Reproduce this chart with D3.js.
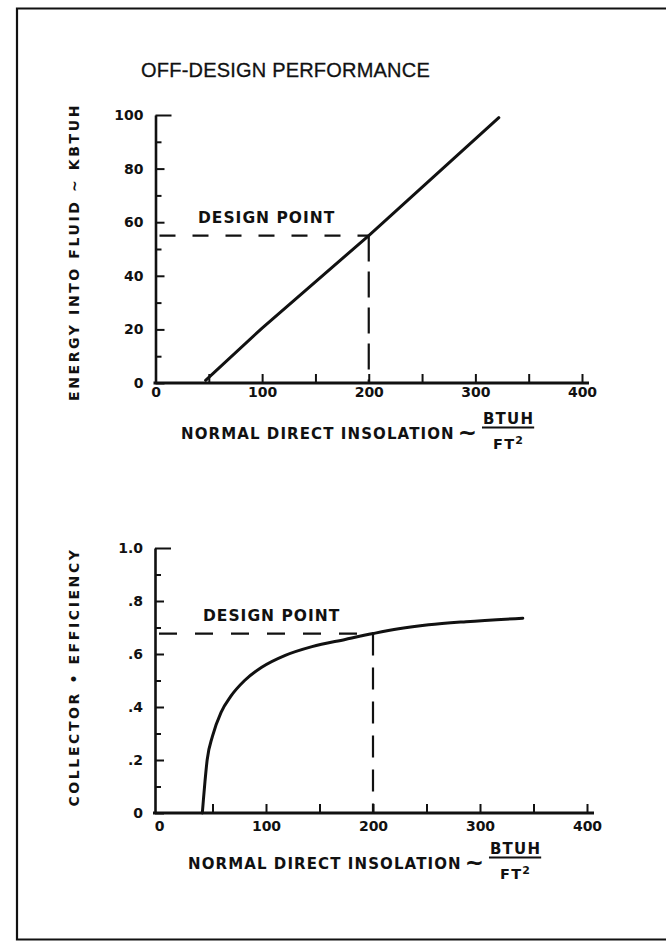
<!DOCTYPE html>
<html>
<head>
<meta charset="utf-8">
<script src="https://cdn.jsdelivr.net/npm/d3@7"></script>
<style>
  html, body { margin: 0; padding: 0; background: #fff; }
  svg { display: block; }
  text { fill: #111; }
  .bold { font-family: "DejaVu Sans", Verdana, sans-serif; font-weight: bold; }
</style>
</head>
<body>
<svg id="chart" width="666" height="946"></svg>
<script>
// ---- data ----
const insolationTicks = [0, 100, 200, 300, 400];
const insolationMinor = [50, 150, 250, 350];

const energyTicks = [0, 20, 40, 60, 80, 100];
const energyMinor = [10, 30, 50, 70, 90];

const efficiencyTicks = [0, 0.2, 0.4, 0.6, 0.8, 1.0];
const efficiencyTickLabels = ["0", ".2", ".4", ".6", ".8", "1.0"];
const efficiencyMinor = [0.1, 0.3, 0.5, 0.7, 0.9];

// energy into fluid (kBtu/h) vs normal direct insolation (Btu/h·ft²)
const energyInsolation = [47, 100, 200, 322];
const energyValues     = [1, 20.5, 55, 99];

// collector efficiency vs normal direct insolation
const efficiencyInsolation = [40.5, 41.5, 43, 45, 50, 58, 67, 80, 96, 118, 143, 174, 200, 224, 252, 287, 340];
const efficiencyValues     = [0, 0.05, 0.12, 0.2, 0.29, 0.38, 0.44, 0.5, 0.55, 0.595, 0.628, 0.655, 0.677, 0.695, 0.71, 0.722, 0.735];

const designInsolation = 200;
const designEnergy = 55;
const designEfficiency = 0.677;

const title = "OFF-DESIGN PERFORMANCE";
const xTitle = "NORMAL DIRECT INSOLATION";
const unitTop = "BTUH";
const unitBottom = "FT";
const energyTitle = "ENERGY INTO FLUID ~ KBTUH";
const efficiencyTitle = "COLLECTOR \u2022 EFFICIENCY";
const designLabel = "DESIGN POINT";

// ---- drawing ----
const svg = d3.select("#chart");
const ink = "#111";

// page frame
svg.append("path")
  .attr("d", "M666,8.5H17V939.5H666")
  .attr("fill", "none").attr("stroke", ink).attr("stroke-width", 2.2);

svg.append("text")
  .attr("x", 285.5).attr("y", 77)
  .attr("text-anchor", "middle")
  .attr("font-family", "'Liberation Sans', Arial, sans-serif")
  .attr("font-size", 20)
  .attr("letter-spacing", 0.2)
  .attr("stroke", ink).attr("stroke-width", 0.3)
  .text(title);

function drawPanel(cfg) {
  const g = svg.append("g");
  const x = d3.scaleLinear().domain([0, 400]).range(cfg.xRange);
  const y = d3.scaleLinear().domain(cfg.yDomain).range(cfg.yRange);

  // y axis: major ticks with labels, pointing inward
  const yAxis = g.append("g")
    .attr("transform", `translate(${cfg.yAxisX},0)`)
    .call(d3.axisLeft(y).tickValues(cfg.yTicks).tickSize(-9).tickSizeOuter(0)
      .tickPadding(12).tickFormat((d, i) => cfg.yLabels[i]));
  yAxis.select(".domain").attr("stroke", ink).attr("stroke-width", 2.6);
  yAxis.selectAll(".tick line").attr("stroke", ink).attr("stroke-width", 2)
    .filter(d => d === cfg.yDomain[1]).attr("x2", 16);
  yAxis.selectAll(".tick text").attr("class", "bold").attr("font-size", 14)
    .attr("fill", ink);

  // y axis minor ticks
  const yMinor = g.append("g")
    .attr("transform", `translate(${cfg.yAxisX},0)`)
    .call(d3.axisLeft(y).tickValues(cfg.yMinor).tickSize(-6).tickFormat(""));
  yMinor.select(".domain").remove();
  yMinor.selectAll(".tick line").attr("stroke", ink).attr("stroke-width", 2);

  // x axis
  const y0 = y(0);
  const xAxis = g.append("g")
    .attr("transform", `translate(0,${y0})`)
    .call(d3.axisBottom(x).tickValues(insolationTicks).tickSize(-9).tickSizeOuter(0)
      .tickPadding(cfg.xPad).tickFormat(d3.format("d")));
  xAxis.select(".domain").remove();
  xAxis.selectAll(".tick line").attr("stroke", ink).attr("stroke-width", 2)
    .filter(d => d === 0).remove();
  xAxis.selectAll(".tick text").attr("class", "bold").attr("font-size", 14)
    .attr("fill", ink);
  const xMinor = g.append("g")
    .attr("transform", `translate(0,${y0})`)
    .call(d3.axisBottom(x).tickValues(insolationMinor).tickSize(-9).tickFormat(""));
  xMinor.select(".domain").remove();
  xMinor.selectAll(".tick line").attr("stroke", ink).attr("stroke-width", 2);
  g.append("line")
    .attr("x1", cfg.yAxisX - 2).attr("x2", x(400) + 7)
    .attr("y1", y0).attr("y2", y0)
    .attr("stroke", ink).attr("stroke-width", 2.8);

  // design point guide lines
  g.append("line")
    .attr("x1", cfg.yAxisX + 4).attr("x2", x(designInsolation))
    .attr("y1", y(cfg.design)).attr("y2", y(cfg.design))
    .attr("stroke", ink).attr("stroke-width", 2.2)
    .attr("stroke-dasharray", cfg.hDash);
  g.append("line")
    .attr("x1", x(designInsolation)).attr("x2", x(designInsolation))
    .attr("y1", y(cfg.design)).attr("y2", y0)
    .attr("stroke", ink).attr("stroke-width", 2.2)
    .attr("stroke-dasharray", cfg.vDash);
  g.append("text").attr("class", "bold")
    .attr("x", cfg.designLabelX).attr("y", y(cfg.design) - cfg.designLabelGap)
    .attr("font-size", 15.5).attr("letter-spacing", 1)
    .text(designLabel);

  // performance curve
  const pts = cfg.xs.map((v, i) => [v, cfg.ys[i]]);
  g.append("path")
    .datum(pts)
    .attr("fill", "none").attr("stroke", ink).attr("stroke-width", 3)
    .attr("stroke-linecap", "round").attr("stroke-linejoin", "round")
    .attr("d", d3.line().x(d => x(d[0])).y(d => y(d[1])).curve(cfg.curve));

  // y axis title
  g.append("text").attr("class", "bold")
    .attr("transform", `translate(${cfg.yTitleX},${cfg.yTitleY}) rotate(-90)`)
    .attr("text-anchor", "middle")
    .attr("font-size", 14).attr("letter-spacing", 2.6)
    .text(cfg.yTitle);

  // x axis title with unit fraction
  const base = cfg.xTitleBase;
  const main = g.append("text").attr("class", "bold")
    .attr("x", cfg.xTitleX).attr("y", base)
    .attr("font-size", 15).attr("letter-spacing", 1.1)
    .text(xTitle);
  const mainEnd = cfg.xTitleX + main.node().getComputedTextLength();
  const tilde = g.append("text").attr("class", "bold")
    .attr("x", mainEnd + 3).attr("y", base + 1)
    .attr("font-size", 23)
    .text("~");
  const tEnd = mainEnd + 3 + tilde.node().getComputedTextLength();
  const num = g.append("text").attr("class", "bold")
    .attr("x", tEnd + 6).attr("y", base - 14.5)
    .attr("font-size", 15).attr("letter-spacing", 1.2)
    .text(unitTop);
  const numW = num.node().getComputedTextLength();
  g.append("line")
    .attr("x1", tEnd + 5).attr("x2", tEnd + 6 + numW)
    .attr("y1", base - 11).attr("y2", base - 11)
    .attr("stroke", ink).attr("stroke-width", 2);
  const den = g.append("text").attr("class", "bold")
    .attr("x", tEnd + 6 + numW / 2).attr("y", base + 10.5)
    .attr("text-anchor", "middle")
    .attr("font-size", 14.5).attr("letter-spacing", 1.2);
  den.append("tspan").text(unitBottom);
  den.append("tspan").attr("dy", -5).attr("font-size", 11).text("2");
}

drawPanel({
  xRange: [155.5, 582], yDomain: [0, 100], yRange: [383, 115], yAxisX: 155.5,
  yTicks: energyTicks, yLabels: energyTicks.map(String), yMinor: energyMinor,
  xPad: 4, design: designEnergy, hDash: "16,17", vDash: "26,10",
  designLabelX: 198, designLabelGap: 13,
  xs: energyInsolation, ys: energyValues, curve: d3.curveLinear,
  yTitle: energyTitle, yTitleX: 79, yTitleY: 252,
  xTitleX: 181, xTitleBase: 438.5
});

drawPanel({
  xRange: [159, 587], yDomain: [0, 1], yRange: [813, 548], yAxisX: 155,
  yTicks: efficiencyTicks, yLabels: efficiencyTickLabels, yMinor: efficiencyMinor,
  xPad: 8, design: designEfficiency, hDash: "18,18", vDash: "22,12",
  designLabelX: 203, designLabelGap: 13,
  xs: efficiencyInsolation, ys: efficiencyValues, curve: d3.curveMonotoneX,
  yTitle: efficiencyTitle, yTitleX: 79, yTitleY: 677,
  xTitleX: 188, xTitleBase: 868.5
});
</script>
</body>
</html>
